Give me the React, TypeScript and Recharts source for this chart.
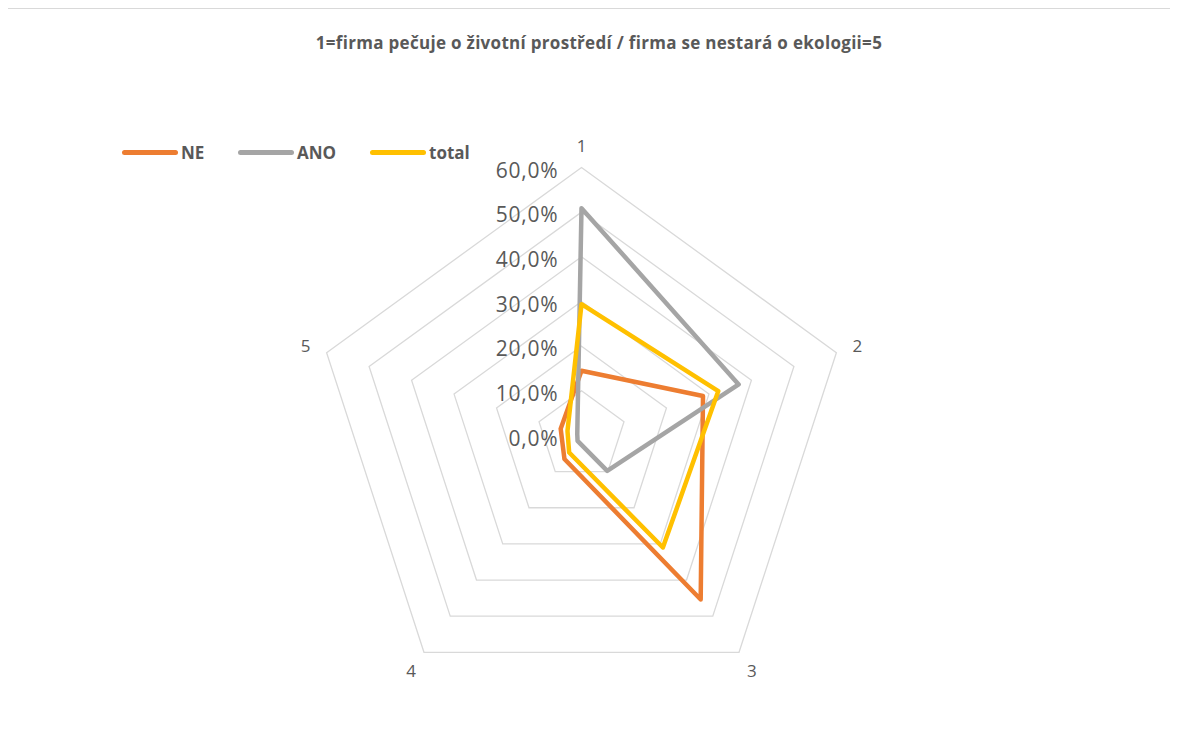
import React from "react";
import { RadarChart, Radar, PolarGrid, PolarAngleAxis, PolarRadiusAxis } from "recharts";

const categories = ["1", "2", "3", "4", "5"];
const neValues = [14.5, 28.6, 45.4, 6.5, 4.9];
const anoValues = [50.9, 37.0, 9.8, 1.5, 1.0];
const totalValues = [29.4, 32.2, 31.0, 4.7, 3.3];
const radiusTicks = [0, 10, 20, 30, 40, 50, 60];

const seriesNames = ["NE", "ANO", "total"];
const seriesColors = ["#ED7D31", "#A5A5A5", "#FFC000"];
const legendLeft = [116, 232, 364];

const data = categories.map((c, i) => ({
  axis: c,
  NE: neValues[i],
  ANO: anoValues[i],
  total: totalValues[i],
}));

const W = 1168;
const H = 730;
const CX = 575.5;
const CY = 426.5;
const R = 268;
const FONT = "'Open Sans', 'Noto Sans', sans-serif";
const TEXT = "#595959";

const fmtPct = (v: number) => v.toFixed(1).replace(".", ",") + "%";

const RadiusTick = (props: any) => {
  const { x, y, payload } = props;
  return (
    <text x={x - 23} y={y + 2} textAnchor="end" dominantBaseline="central" fill={TEXT} fontSize={21} letterSpacing={0.8} fontFamily={FONT}>
      {fmtPct(payload.value)}
    </text>
  );
};

const AngleTick = (props: any) => {
  const { x, y, payload } = props;
  const dx = x - CX;
  const dy = y - CY;
  const d = Math.sqrt(dx * dx + dy * dy) || 1;
  const off = R + 22;
  return (
    <text x={CX + (dx / d) * off} y={CY + (dy / d) * off} textAnchor="middle" dominantBaseline="central" fill={TEXT} fontSize={17} fontFamily={FONT}>
      {payload.value}
    </text>
  );
};

export default function App() {
  return (
    <div
      style={{
        position: "relative",
        marginLeft: -3,
        width: W,
        height: H + 10,
        border: "1px solid #d9d9d9",
        background: "#fff",
        fontFamily: FONT,
      }}
    >
      <div
        style={{
          position: "absolute",
          top: 22,
          left: 0,
          width: W + 18,
          textAlign: "center",
          fontSize: 17,
          letterSpacing: 0.3,
          fontWeight: 700,
          color: TEXT,
        }}
      >
        1=firma pečuje o životní prostředí / firma se nestará o ekologii=5
      </div>
      {seriesNames.map((n, i) => (
        <div key={n} style={{ position: "absolute", top: 130, left: legendLeft[i], display: "flex", alignItems: "center", height: 26 }}>
          <div style={{ width: 56, height: 5, borderRadius: 3, background: seriesColors[i], marginRight: 3 }} />
          <span style={{ fontSize: 17, fontWeight: 700, color: TEXT }}>{n}</span>
        </div>
      ))}
      <RadarChart
        width={W}
        height={H}
        data={data}
        cx={CX}
        cy={CY}
        outerRadius={R}
        margin={{ top: 0, right: 0, bottom: 0, left: 0 }}
      >
        <PolarGrid gridType="polygon" radialLines={false} stroke="#d9d9d9" strokeWidth={1.3} />
        <PolarAngleAxis dataKey="axis" axisLine={false} tickLine={false} tick={<AngleTick />} />
        <PolarRadiusAxis
          angle={90}
          type="number"
          scale="linear"
          domain={[0, 60]}
          ticks={radiusTicks as any}
          tickCount={7}
          axisLine={false}
          tickLine={false}
          tick={<RadiusTick />}
        />
        {seriesNames.map((n, i) => (
          <Radar
            key={n}
            name={n}
            dataKey={n}
            stroke={seriesColors[i]}
            strokeWidth={4.5}
            strokeLinejoin="round"
            fill="none"
            fillOpacity={0}
            dot={false}
            isAnimationActive={false}
          />
        ))}
      </RadarChart>
    </div>
  );
}
